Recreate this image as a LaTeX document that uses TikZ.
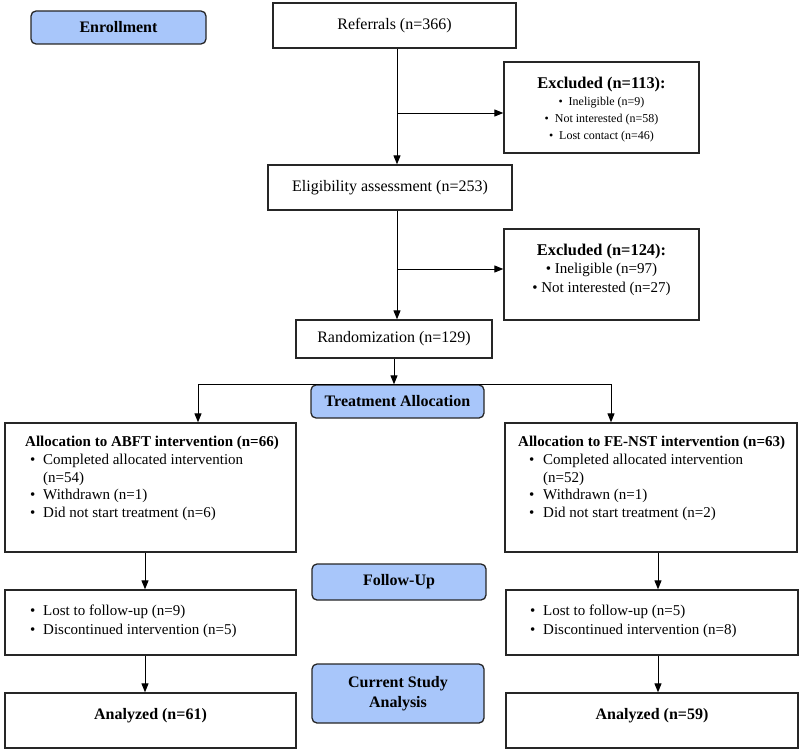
\documentclass[tikz,border=0pt]{standalone}
\usepackage{fontspec}
\setmainfont{Liberation Serif}
\usetikzlibrary{arrows.meta,calc}
\definecolor{phase}{RGB}{168,198,250}
\newcommand\bulL{\makebox[18pt][l]{\hspace*{5pt}\textbullet}}
\newcommand\bulR{\makebox[25pt][l]{\hspace*{11pt}\textbullet}}
\tikzset{
  box/.style={draw=black!85, line width=1.3pt, fill=white, inner sep=0pt,
    font=\fontsize{16}{18}\selectfont},
  phasebox/.style={box, fill=phase, rounded corners=5pt,
    font=\fontsize{16}{20}\selectfont\bfseries, align=center},
  txt/.style={inner sep=0pt},
  arr/.style={line width=1pt, -{Triangle[length=9pt,width=7pt]}},
  conn/.style={line width=1pt},
}
\begin{document}
\begin{tikzpicture}[x=1pt,y=-1pt]
\useasboundingbox (0,0) rectangle (800,752);

% phase labels
\node[phasebox, minimum width=175pt, minimum height=33pt] (enroll) at (118.5,27.5) {Enrollment};
\node[phasebox, minimum width=173pt, minimum height=33pt] (treat) at (397.5,401.5) {Treatment Allocation};
\node[phasebox, minimum width=174pt, minimum height=36pt] (fublue) at (399,582) {Follow-Up};
\node[phasebox, minimum width=172pt, minimum height=59pt] (csa) at (398,693.5) {Current Study\\Analysis};

% enrollment
\node[box, minimum width=243pt, minimum height=45pt] (refer) at (394.5,25.5) {Referrals (n=366)};
\node[box, minimum width=195pt, minimum height=91pt] (exc1) at (601.5,107.5) {};
\node[txt, anchor=north, align=center, font=\fontsize{12}{17}\selectfont] (exc1txt) at (601.5,76.5)
  {{\fontsize{16.4}{17}\selectfont\bfseries Excluded (n=113):}\\
   \textbullet\ \ Ineligible (n=9)\\
   \textbullet\ \ Not interested (n=58)\\
   \textbullet\ \ Lost contact (n=46)};
\node[box, minimum width=244pt, minimum height=45pt] (elig) at (390,187.5) {Eligibility assessment (n=253)};
\node[box, minimum width=195pt, minimum height=91pt] (exc2) at (601.5,274.5) {};
\node[txt, anchor=north, align=center, font=\fontsize{15}{18.5}\selectfont] (exc2txt) at (601.5,243.5)
  {{\fontsize{16.4}{18}\selectfont\bfseries Excluded (n=124):}\\
   \textbullet\ Ineligible (n=97)\\
   \textbullet\ Not interested (n=27)};
\node[box, minimum width=196pt, minimum height=38pt] (rand) at (394,339) {Randomization (n=129)};

% allocation
\node[box, minimum width=291pt, minimum height=129pt] (allocL) at (150.5,487.5) {};
\node[txt, anchor=north west, align=left, font=\fontsize{15}{17.7}\selectfont] (allocLtxt) at (25,436)
  {\textbf{Allocation to ABFT intervention (n=66)}\\
   \bulL Completed allocated intervention\\
   \hspace*{18pt}(n=54)\\
   \bulL Withdrawn (n=1)\\
   \bulL Did not start treatment (n=6)};
\node[box, minimum width=292pt, minimum height=129pt] (allocR) at (651,487.5) {};
\node[txt, anchor=north west, align=left, font=\fontsize{15}{17.7}\selectfont] (allocRtxt) at (518,436)
  {\textbf{Allocation to FE-NST intervention (n=63)}\\
   \bulR Completed allocated intervention\\
   \hspace*{25pt}(n=52)\\
   \bulR Withdrawn (n=1)\\
   \bulR Did not start treatment (n=2)};

% follow-up
\node[box, minimum width=291pt, minimum height=65pt] (fuL) at (150.5,622.5) {};
\node[txt, anchor=north west, align=left, font=\fontsize{15}{19}\selectfont] (fuLtxt) at (25,605)
  {\bulL Lost to follow-up (n=9)\\
   \bulL Discontinued intervention (n=5)};
\node[box, minimum width=292pt, minimum height=65pt] (fuR) at (652,622.5) {};
\node[txt, anchor=north west, align=left, font=\fontsize{15}{19}\selectfont] (fuRtxt) at (525,605)
  {\bulL Lost to follow-up (n=5)\\
   \bulL Discontinued intervention (n=8)};

% analysis
\node[box, minimum width=291pt, minimum height=55pt, text depth=14pt, font=\fontsize{16}{18}\selectfont\bfseries] (anL) at (150.5,720.5) {Analyzed (n=61)};
\node[box, minimum width=292pt, minimum height=55pt, text depth=14pt, font=\fontsize{16}{18}\selectfont\bfseries] (anR) at (652,720.5) {Analyzed (n=59)};

% connectors
\coordinate (spine) at (397,0);
\coordinate (splitL) at (198,384);
\coordinate (splitR) at (611,384);
\coordinate (dropL) at (145,0);
\coordinate (dropR) at (658,0);

\draw[arr] (refer.south -| spine) -- (elig.north -| spine);
\draw[arr] (spine |- 0,113) -- (exc1.west |- 0,113);
\draw[arr] (elig.south -| spine) -- (rand.north -| spine);
\draw[arr] (spine |- 0,269) -- (exc2.west |- 0,269);
\draw[arr] (rand.south) -- (rand.south |- treat.north);
\draw[conn] (splitL) -- (splitR);
\draw[arr] (splitL) -- (splitL |- allocL.north);
\draw[arr] (splitR) -- (splitR |- allocR.north);
\draw[arr] (allocL.south -| dropL) -- (fuL.north -| dropL);
\draw[arr] (fuL.south -| dropL) -- (anL.north -| dropL);
\draw[arr] (allocR.south -| dropR) -- (fuR.north -| dropR);
\draw[arr] (fuR.south -| dropR) -- (anR.north -| dropR);
\end{tikzpicture}
\end{document}
